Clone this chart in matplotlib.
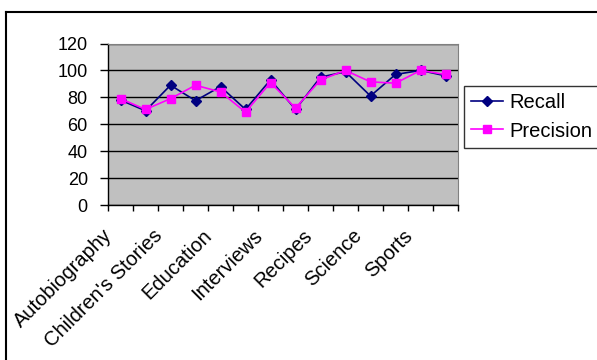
import matplotlib
matplotlib.use("Agg")
import matplotlib.pyplot as plt
from matplotlib.lines import Line2D
import matplotlib.transforms as mtrans
import numpy as np

plt.rcParams['font.family'] = ['Liberation Sans', 'DejaVu Sans']

categories = ["Autobiography", "", "Children's Stories", "", "Education", "",
              "Interviews", "", "Recipes", "", "Science", "", "Sports", ""]
recall = [78, 70, 89, 77.5, 88, 71, 93, 71, 95, 99, 81, 97, 100, 96]
precision = [79, 71, 79, 89, 84, 69, 91, 72, 93, 100, 91.5, 90.5, 100, 97]
y_ticks = [0, 20, 40, 60, 80, 100, 120]

W, H = 597, 360
fig = plt.figure(figsize=(W/100, H/100), dpi=100)
ax = fig.add_axes([108/W, 1-205/H, (458-108)/W, (205-43.5)/H])
ax.set_facecolor('#C0C0C0')

x = np.arange(len(categories))
ax.plot(x, recall, color='#000080', marker='D', markersize=5, lw=1.2, label='Recall', zorder=3)
ax.plot(x, precision, color='#FF00FF', marker='s', markersize=5.5, lw=1.2, label='Precision', zorder=3)

ax.set_xlim(-0.5, len(categories)-0.5)
ax.set_ylim(0, 120)
ax.set_yticks(y_ticks)
ax.set_yticklabels([str(v) for v in y_ticks], fontsize=13)
ax.yaxis.grid(True, color='black', lw=1)
ax.set_axisbelow(True)
ax.tick_params(axis='y', length=5.5, width=1, color='black', pad=9)

ax.set_xticks(np.arange(len(categories)+1) - 0.5, minor=False)
ax.set_xticklabels([])
ax.tick_params(axis='x', which='major', length=4, width=1, color='black')
ax.set_xticks(x, minor=True)
ax.set_xticklabels(categories, minor=True, rotation=45, ha='right', va='top',
                   rotation_mode='anchor', fontsize=14.5)
ax.tick_params(axis='x', which='minor', length=0, pad=15)
off = mtrans.ScaledTranslation(-18/100, 0, fig.dpi_scale_trans)
for lbl in ax.get_xticklabels(minor=True):
    lbl.set_transform(lbl.get_transform() + off)

for s in ['top', 'right']:
    ax.spines[s].set_color('#808080')
for s in ['left', 'bottom']:
    ax.spines[s].set_color('black')
    ax.spines[s].set_linewidth(1)

leg = ax.legend(loc='center left', bbox_to_anchor=(464/W, 1-117/H), bbox_transform=fig.transFigure,
                frameon=True, fancybox=False, edgecolor='black', fontsize=14.5,
                handlelength=1.6, borderpad=0.35, labelspacing=0.45, handletextpad=0.3, borderaxespad=0)
leg.get_frame().set_linewidth(1)

fig.add_artist(Line2D([6/W, 1], [1-12/H, 1-12/H], color='black', lw=1.5, transform=fig.transFigure))
fig.add_artist(Line2D([6/W, 6/W], [0, 1-12/H], color='black', lw=1.5, transform=fig.transFigure))

fig.savefig('out.png', dpi=100, facecolor='white')
